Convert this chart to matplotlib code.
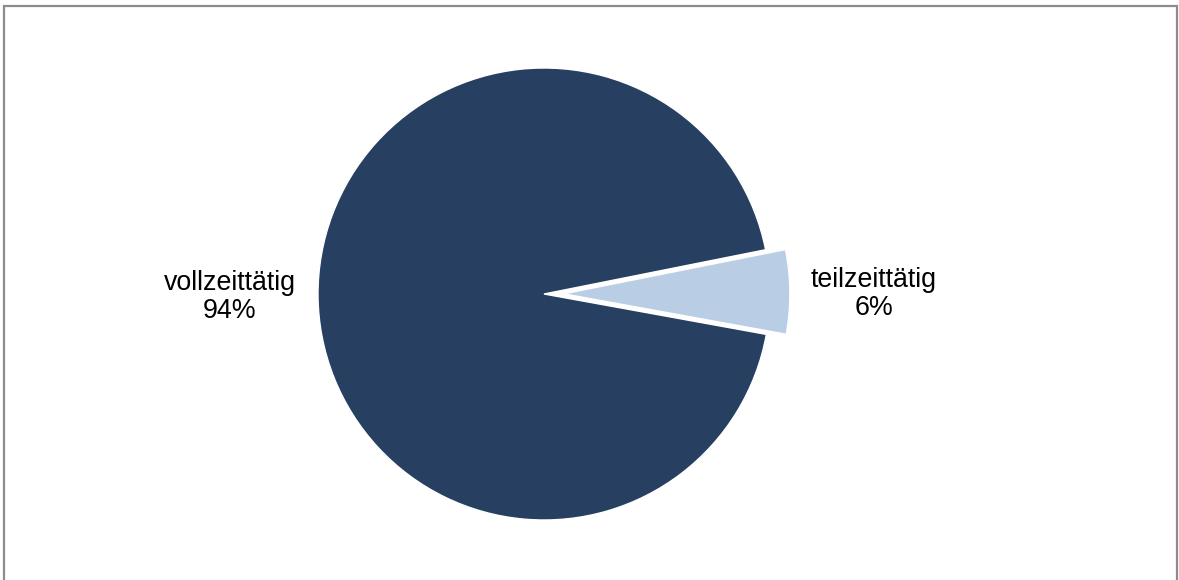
import matplotlib
matplotlib.use("Agg")
import matplotlib.pyplot as plt
from matplotlib.patches import Rectangle

categories = ["teilzeittätig", "vollzeittätig"]
values = [6, 94]
pct_labels = ["6%", "94%"]
colors = ["#B9CDE5", "#274061"]

W, H = 1179, 580
fig = plt.figure(figsize=(W / 100, H / 100), dpi=100)
ax = fig.add_axes([0, 0, 1, 1])

cx, cy, r = 544, H - 294, 226
ax.pie(values, colors=colors, center=(cx, cy), radius=r,
       startangle=-10.3, counterclock=True, explode=[0.088 * r, 0],
       wedgeprops=dict(edgecolor="white", linewidth=1.0), frame=True)
ax.set_xlim(0, W)
ax.set_ylim(0, H)
ax.set_aspect("equal")
ax.axis("off")

label_pos = [(874, H - 294), (230, H - 297)]
for (x, y), cat, p in zip(label_pos, categories, pct_labels):
    ax.text(x, y, f"{cat}\n{p}", ha="center", va="center", fontsize=19.3,
            family=["Liberation Sans", "DejaVu Sans"], color="black",
            linespacing=1.1)

ax.add_patch(Rectangle((4, -10), 1173, H - 6 + 10, fill=False,
                       edgecolor="#8C8C8C", linewidth=1.6, clip_on=False))

fig.savefig("out.png", dpi=100)
